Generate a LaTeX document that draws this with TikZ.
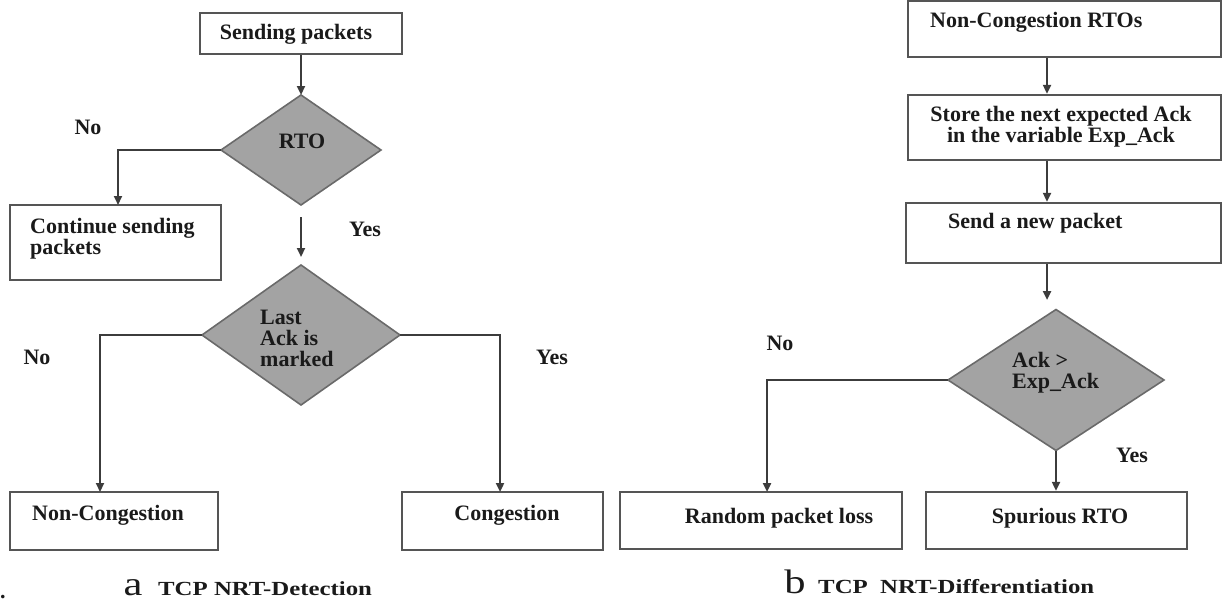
\documentclass[tikz,border=0pt]{standalone}
\usepackage{fontspec}
\setmainfont{Liberation Serif}
\usetikzlibrary{shapes.geometric,arrows.meta,fit}
\definecolor{boxline}{HTML}{555555}
\definecolor{arrline}{HTML}{3C3C3C}
\definecolor{diafill}{HTML}{A3A3A3}
\definecolor{dialine}{HTML}{6A6A6A}
\definecolor{ink}{HTML}{1A1A1A}
\begin{document}
\begin{tikzpicture}[x=1pt,y=-1pt,
  box/.style={draw=boxline, line width=2.4pt, inner sep=0pt, fill=white},
  dia/.style={diamond, draw=dialine, fill=diafill, line width=1.6pt, inner sep=0pt, outer sep=0pt},
  arr/.style={draw=arrline, line width=2.2pt, -{Triangle[length=9pt,width=8pt]}},
  txt/.style={font=\fontsize{22}{21}\selectfont\bfseries, text=ink, inner sep=0pt},
  multi/.style={txt, align=left},
  captxt/.style={font=\fontsize{20}{22}\selectfont\bfseries, text=ink, inner sep=0pt, anchor=base west},
  letter/.style={font=\fontsize{34}{34}\selectfont, text=ink, inner sep=0pt, anchor=base}
]
\useasboundingbox (0,0) rectangle (1222,608);

% ---------- panel a ----------
\node[box, fit={(200,13)(402,54)}] (send) {};
\node[txt] (sendt) at (296,34) {Sending packets};

\node[dia, minimum width=160pt, minimum height=110pt] (rto) at (301,150) {};
\node[txt] (rtot) at (302,141) {RTO};

\node[box, fit={(10,205)(221,280)}] (cont) {};
\node[multi, anchor=west] (contt) at (30,239) {Continue sending\\packets};

\node[dia, minimum width=198pt, minimum height=140pt] (last) at (301,335) {};
\node[multi, anchor=west] (lastt) at (260,338) {Last\\Ack is\\marked};

\node[box, fit={(10,492)(218,550)}] (noncong) {};
\node[txt, anchor=west] (noncongt) at (32,515) {Non-Congestion};

\node[box, fit={(402,492)(603,550)}] (cong) {};
\node[txt] (congt) at (507,515) {Congestion};

\coordinate (contin) at (118,205);
\coordinate (ncin) at (100,492);
\coordinate (cin) at (500,492);

\draw[arr] (send.south -| rto.north) -- (rto.north);
\draw[arr] (rto.west) -| (contin);
\draw[arr] ([yshift=-12pt]rto.south) -- ([yshift=8pt]last.north);
\draw[arr] (last.west) -| (ncin);
\draw[arr] (last.east) -| (cin);

\node[txt] (no1) at (88,127) {No};
\node[txt] (yes1) at (365,229) {Yes};
\node[txt] (no2) at (37,357) {No};
\node[txt] (yes2) at (552,357) {Yes};

\node[letter] (capa) at (133,595) {\scalebox{1.25}[1]{a}};
\node[captxt] (capat) at (158,595) {\scalebox{1.24}[1]{TCP NRT-Detection}};
\node[txt] (dot) at (3,597) {.};

% ---------- panel b ----------
\coordinate (ax) at (1047,0);
\node[box, fit={(908,1)(1221,57)}] (nc) {};
\node[txt, anchor=west] (nct) at (930,22) {Non-Congestion RTOs};

\node[box, fit={(908,95)(1221,160)}] (store) {};
\node[txt, align=center] (storet) at (1061,127) {Store the next expected Ack\\in the variable Exp\_Ack};

\node[box, fit={(906,203)(1221,263)}] (send2) {};
\node[txt, anchor=west] (send2t) at (948,223) {Send a new packet};

\node[dia, minimum width=216pt, minimum height=141pt] (ack) at (1056,380) {};
\node[multi, anchor=west] (ackt) at (1012,372.5) {Ack >\\Exp\_Ack};

\node[box, fit={(620,492)(902,549)}] (rand) {};
\node[txt] (randt) at (779,518) {Random packet loss};

\node[box, fit={(926,492)(1187,549)}] (spur) {};
\node[txt] (spurt) at (1060,518) {Spurious RTO};

\coordinate (ackin) at (1047,300);
\coordinate (randin) at (767,492);

\draw[arr] (nc.south -| ax) -- (store.north -| ax);
\draw[arr] (store.south -| ax) -- (send2.north -| ax);
\draw[arr] (send2.south -| ax) -- (ackin);
\draw[arr] (ack.west) -| (randin);
\draw[arr] (ack.south) -- (spur.north -| ack.south);

\node[txt] (no3) at (780,343) {No};
\node[txt] (yes3) at (1132,455) {Yes};

\node[letter] (capb) at (795,593) {\scalebox{1.25}[1]{b}};
\node[captxt] (capbt) at (818,593) {\scalebox{1.24}[1]{TCP\ \ NRT-Differentiation}};
\end{tikzpicture}
\end{document}
